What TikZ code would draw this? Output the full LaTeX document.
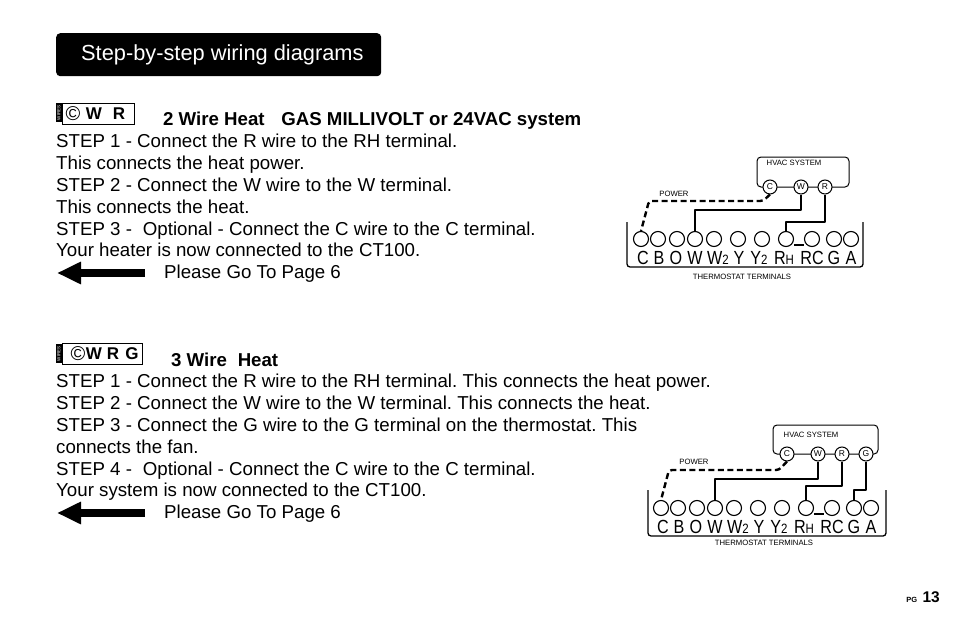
\documentclass[tikz,border=0pt]{standalone}
\usepackage{fontspec}
\setmainfont{Liberation Sans}
\newfontfamily\narrowfont[FakeStretch=0.85]{Liberation Sans}
\usetikzlibrary{arrows.meta,positioning}
\frenchspacing
\tikzset{
  % text lines
  body/.style={anchor=base west,inner sep=0pt,font=\fontsize{18.7}{18}\selectfont},
  head/.style={body,font=\fontsize{18.65}{18}\selectfont\bfseries},
  % terminals
  term/.style={circle,draw=black,fill=white,line width=1.1pt,minimum size=15pt,inner sep=0pt},
  hvacterm/.style={circle,draw=black,fill=white,line width=1pt,minimum size=14pt,inner sep=0pt,font=\fontsize{8.5}{8}\selectfont},
  termlabel/.style={anchor=base,inner sep=0pt,font=\fontsize{19}{18}\narrowfont},
  small/.style={inner sep=0pt,font=\fontsize{7.7}{8}\selectfont},
  % connectors
  wire/.style={line width=2.4pt,line join=round},
  powerwire/.style={wire,dashed,dash pattern=on 6pt off 3.5pt,rounded corners=3pt},
  tray/.style={line width=1.3pt,rounded corners=3pt},
  backarrow/.style={line width=8pt,-{Triangle[length=24pt,width=21pt]}},
  % badges
  badge/.style={draw=black,line width=1.4pt,fill=white,minimum height=21pt,inner sep=0pt},
  wirestag/.style={fill=black,text=white,minimum width=6pt,inner sep=0pt,font=\fontsize{4.5}{4}\selectfont},
  badgeletter/.style={inner sep=0pt,font=\fontsize{17}{16}\selectfont\bfseries},
  badgering/.style={inner sep=0pt,font=\fontsize{20}{16}\selectfont}
}

\begin{document}
\begin{tikzpicture}[x=1pt,y=-1pt]
  \useasboundingbox (0,0) rectangle (954,618);

  \node[fill=black,rounded corners=4pt,minimum width=325pt,minimum height=43pt,anchor=north west,inner sep=0pt] (titlebar) at (56,33) {};
  \node[anchor=west,inner sep=0pt,text=white,font=\fontsize{21.8}{22}\selectfont] (title) at (81,55) {Step-by-step wiring diagrams};

  % first block
  \node[badge,anchor=north west,minimum width=72pt] (badgea) at (62,103) {};
  \node[wirestag,anchor=north east,minimum height=19pt] (taga) at (62,103) {\rotatebox{90}{WIRES}};
  \node[badgering] (ca) at (73,114) {©};
  \node[badgeletter] (wa) at (94,114) {W};
  \node[badgeletter] (ra) at (119,114) {R};
  \node[head] (heada) at (163,125) {2 Wire Heat\hspace{0.9em}GAS MILLIVOLT or 24VAC system};
  \foreach \i/\ypos/\txt in {
    1/147/{STEP 1 - Connect the R wire to the RH terminal.},
    2/169/{This connects the heat power.},
    3/191/{STEP 2 - Connect the W wire to the W terminal.},
    4/213/{This connects the heat.},
    5/235/{STEP 3 -\hspace{0.3em} Optional - Connect the C wire to the C terminal.},
    6/256/{Your heater is now connected to the CT100.}}
    \node[body] (linea\i) at (56,\ypos) {\txt};
  \coordinate (arrowafrom) at (145,273);
  \coordinate (arrowato) at (57,273);
  \draw[backarrow] (arrowafrom) -- (arrowato);
  \node[body] (pagea) at (164,278) {Please Go To Page 6};

  % second block
  \node[badge,anchor=north west,minimum width=80pt] (badgeb) at (62,343) {};
  \node[wirestag,anchor=north east,minimum height=19pt] (tagb) at (62,344) {\rotatebox{90}{WIRES}};
  \node[badgering] (cb) at (78,354) {©};
  \node[badgeletter] (wb) at (94,354) {W};
  \node[badgeletter] (rb) at (113,354) {R};
  \node[badgeletter] (gb) at (132,354) {G};
  \node[head] (headb) at (171,366) {3 Wire\hspace{0.3em} Heat};
  \foreach \i/\ypos/\txt in {
    1/387/{STEP 1 - Connect the R wire to the RH terminal. This connects the heat power.},
    2/409/{STEP 2 - Connect the W wire to the W terminal. This connects the heat.},
    3/431/{STEP 3 - Connect the G wire to the G terminal on the thermostat. This},
    4/453/{connects the fan.},
    5/475/{STEP 4 -\hspace{0.3em} Optional - Connect the C wire to the C terminal.},
    6/496/{Your system is now connected to the CT100.}}
    \node[body] (lineb\i) at (56,\ypos) {\txt};
  \coordinate (arrowbfrom) at (145,513);
  \coordinate (arrowbto) at (57,513);
  \draw[backarrow] (arrowbfrom) -- (arrowbto);
  \node[body] (pageb) at (164,518) {Please Go To Page 6};

  % thermostat terminals, both diagrams
  \foreach \pre/\dx/\dy in {a/0/0,b/20/269} {
    \foreach \name/\xpos in {C/641,B/658,O/677,W/695,Wt/714,Y/738,Yt/762,Rh/786,Rc/812,G/834,A/851}
      \node[term] (\pre-\name) at (\xpos+\dx,239+\dy) {};
    \foreach \name/\xpos/\txt in {C/643/C,B/659/B,O/676/O,W/695/W,Wt/718/{W{\fontsize{13.5}{13}\narrowfont 2}},Y/739/Y,Yt/759/{Y{\fontsize{13.5}{13}\narrowfont 2}},Rh/784/{R{\fontsize{13.5}{13}\narrowfont H}},Rc/812/RC,G/834/G,A/851/A}
      \node[termlabel] (\pre-l\name) at (\xpos+\dx,264+\dy) {\txt};
  }
  \draw[tray] (627,222) -- (627,267) -- (863,267) -- (863,222);
  \draw[tray] (648,490) -- (648,536) -- (886,536) -- (886,490);

  % first diagram
  \draw[line width=1pt,rounded corners=4pt] (757,187) -- (757,157) -- (849,157) -- (849,187) -- cycle;
  \node[hvacterm] (a-hc) at (770,187) {C};
  \node[hvacterm] (a-hw) at (801,187) {W};
  \node[hvacterm] (a-hr) at (825,187) {R};
  \node[small] (a-hvac) at (794,163) {HVAC SYSTEM};
  \node[small] (a-power) at (674,194) {POWER};
  \node[small] (a-terminals) at (742,277) {THERMOSTAT TERMINALS};
  \draw[powerwire] (a-hc.south) -- (763,201) -- (649,201) -- (a-C.north);
  \draw[wire] (a-hw.south) -- (a-hw.south |- 0,210) -| (a-W.north);
  \draw[wire] (a-hr.south) -- (a-hr.south |- 0,222) -| (a-Rh.north);
  \draw[wire] (a-Rh.east) ++(0,6) -- (a-Rc.west |- 0,245);

  % second diagram
  \draw[line width=1pt,rounded corners=4pt] (773,454) -- (773,425) -- (878,425) -- (878,454) -- cycle;
  \node[hvacterm] (b-hc) at (787,454) {C};
  \node[hvacterm] (b-hw) at (818,454) {W};
  \node[hvacterm] (b-hr) at (842,454) {R};
  \node[hvacterm] (b-hg) at (866,454) {G};
  \node[small] (b-hvac) at (811,435) {HVAC SYSTEM};
  \node[small] (b-power) at (694,462) {POWER};
  \node[small] (b-terminals) at (764,543) {THERMOSTAT TERMINALS};
  \draw[powerwire] (b-hc.south) -- (779,470) -- (669,470) -- (b-C.north);
  \draw[wire] (b-hw.south) -- (b-hw.south |- 0,479) -| (b-W.north);
  \draw[wire] (b-hr.south) -- (b-hr.south |- 0,486) -| (b-Rh.north);
  \draw[wire] (b-hg.south) -- (b-hg.south |- 0,490) -| (b-G.north);
  \draw[wire] (b-Rh.east) ++(0,6) -- (b-Rc.west |- 0,514);

  % page number
  \node[anchor=base east,inner sep=0pt,font=\fontsize{15.5}{14}\selectfont\bfseries] (pagenum) at (940,602) {13};
  \node[inner sep=0pt,font=\fontsize{7.5}{7}\selectfont\bfseries,left=5pt of pagenum.base west,anchor=base east] (pagepg) {PG};
\end{tikzpicture}
\end{document}
